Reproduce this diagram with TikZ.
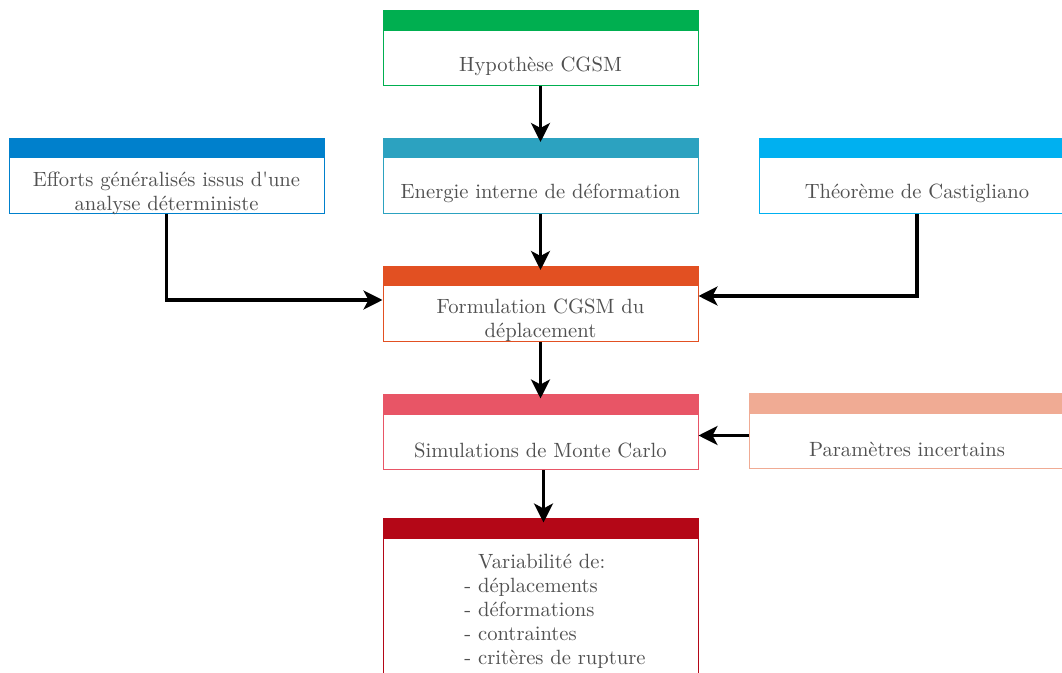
\documentclass[tikz,border=0pt]{standalone}
\usepackage{tikz}
\usetikzlibrary{arrows.meta}
\definecolor{vert}{HTML}{00AF50}
\definecolor{bleu}{HTML}{0080CC}
\definecolor{bleumoyen}{HTML}{2CA2C0}
\definecolor{cyan}{HTML}{00B0F0}
\definecolor{orange}{HTML}{E25022}
\definecolor{rose}{HTML}{E85566}
\definecolor{saumon}{HTML}{F0AB94}
\definecolor{rouge}{HTML}{B40717}
\definecolor{gristexte}{HTML}{505050}

\begin{document}
\begin{tikzpicture}[x=0.5pt,y=-0.5pt,
		etape/.style={draw=#1, line width=0.5pt, fill=white, minimum width=157.5pt, minimum height=37.5pt, inner sep=0pt,
			path picture={\fill[#1] (path picture bounding box.north west) rectangle ([yshift=-10pt]path picture bounding box.north east);}},
		texte/.style={text=gristexte, font=\fontsize{10.3pt}{12pt}\selectfont, align=center, inner sep=0pt},
		fleche/.style={-{Stealth[length=9.5pt,width=9.5pt,inset=2.5pt]}, line width=1.6pt}]
	\useasboundingbox (0,0) rectangle (1062,673);
	% les etapes
	\node[etape=vert] (hyp) at (540.5,48.5) {};
	\node[etape=bleu] (eff) at (166.5,176) {};
	\node[etape=bleumoyen] (ene) at (540.5,176) {};
	\node[etape=cyan] (the) at (917,176) {};
	\node[etape=orange] (form) at (540.5,304) {};
	\node[etape=rose] (sim) at (540.5,432.5) {};
	\node[etape=saumon] (par) at (907,431.5) {};
	\node[etape=rouge, minimum height=90pt] (var) at (540.5,609) {};
	% les textes
	\node[texte] (hyp-t) at (540.5,66) {Hypoth\`ese CGSM};
	\node[texte] (eff-t) at (166.5,193.5) {Efforts g\'en\'eralis\'es issus d\textquotesingle une\\analyse d\'eterministe};
	\node[texte] (ene-t) at (540.5,193.5) {Energie interne de d\'eformation};
	\node[texte] (the-t) at (917,193.5) {Th\'eor\`eme de Castigliano};
	\node[texte] (form-t) at (540.5,320.5) {Formulation CGSM du\\d\'eplacement};
	\node[texte] (sim-t) at (540.5,450) {Simulations de Monte Carlo};
	\node[texte] (par-t) at (907,449) {Param\`etres incertains};
	\node[texte, align=left] (var-t) at (555,611) {\phantom{- }Variabilit\'e de:\\- d\'eplacements\\- d\'eformations\\- contraintes\\- crit\`eres de rupture};
	% les fleches
	\draw[fleche] (hyp.south) -- ([yshift=-2pt]ene.north);
	\draw[fleche] (ene.south) -- ([yshift=-2pt]form.north);
	\draw[fleche] (eff.south) |- ([yshift=2pt]form.west);
	\draw[fleche] (the.south) |- ([yshift=4pt]form.east);
	\draw[fleche] (form.south) -- ([yshift=-2pt]sim.north);
	\draw[fleche] ([yshift=-2pt]par.west) -- ([yshift=-2pt]par.west -| sim.east);
	\draw[fleche] ([xshift=1.5pt]sim.south) -- ([xshift=1.5pt,yshift=-2pt]var.north);
\end{tikzpicture}
\end{document}
